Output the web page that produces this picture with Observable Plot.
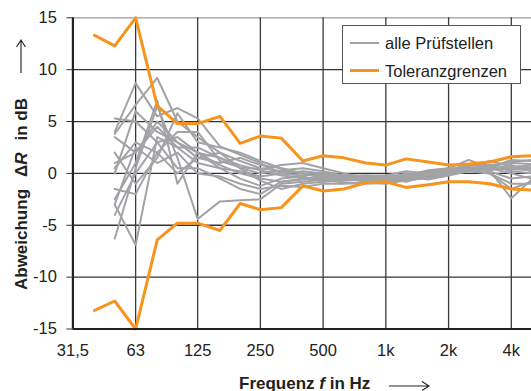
<!DOCTYPE html>
<html><head><meta charset="utf-8">
<script src="https://cdn.jsdelivr.net/npm/d3@7"></script>
<script src="https://cdn.jsdelivr.net/npm/@observablehq/plot@0.6"></script>
<style>
body{margin:0;background:#fff;font-family:"Liberation Sans",Arial,sans-serif;}
#wrap{position:relative;width:531px;height:391px;overflow:hidden;}
#legend{position:absolute;left:342px;top:25px;width:179px;height:59px;border:1px solid #555;background:#fff;box-sizing:border-box;}
.li{position:absolute;left:7px;height:20px;font-size:16.5px;color:#222;white-space:nowrap;}
.sw{position:absolute;left:0;width:29px;top:9px;}
.lt{position:absolute;left:35px;top:0;line-height:20px;}
#xl{position:absolute;left:239px;top:375px;font-size:17px;font-weight:bold;color:#222;white-space:pre;line-height:17px;}
#yl{position:absolute;left:21px;top:194px;font-size:17px;font-weight:bold;color:#222;white-space:nowrap;transform:translate(-50%,-50%) rotate(-90deg);line-height:17px;}
#yl span{display:inline-block;}
</style>
</head><body>
<div id="wrap"></div>
<script>
// third-octave centre frequencies (Hz)
const tolFreq = [40,50,63,80,100,125,160,200,250,315,400,500,630,800,1000,1250,1600,2000,2500,3150,4000,5000];
const tolUpper = [13.3,12.3,15,6.5,4.8,4.8,5.5,2.9,3.6,3.4,1.2,1.7,1.5,1.0,0.8,1.4,1.1,0.8,0.9,1.1,1.6,1.7];
const tolLower = [-13.2,-12.3,-15,-6.4,-4.8,-4.8,-5.5,-2.9,-3.5,-3.3,-1.2,-1.7,-1.5,-0.9,-0.8,-1.35,-1.1,-0.8,-0.8,-1.0,-1.5,-1.6];

const labFreq = [50,63,80,100,125,160,200,250,315,400,500,630,800,1000,1250,1600,2000,2500,3150,4000,5000];
const lab01 = [3.8,6.6,9.2,5.0,3.5,2.0,1.2,0.5,0.2,0.0,-0.3,-0.5,-0.6,-0.4,-0.3,0.0,0.2,0.5,0.8,1.0,0.9];
const lab02 = [4.0,8.7,5.5,6.3,5.3,2.6,1.8,1.0,0.0,-0.2,0.0,-0.3,-0.5,-0.7,-0.2,0.3,0.5,1.3,0.5,1.3,1.2];
const lab03 = [5.3,5.0,3.0,3.5,2.0,1.5,0.8,0.3,-0.2,-0.4,-0.5,-0.6,-0.3,-0.5,0.0,-0.3,0.1,0.6,0.3,-2.4,-0.6];
const lab04 = [-2.5,1.0,7.0,-1.0,2.0,0.8,0.0,-0.5,-0.8,-0.6,-0.5,-0.2,-0.4,-0.8,-0.6,-0.3,0.3,0.6,0.4,0.8,0.2];
const lab05 = [-6.3,0.5,6.5,1.5,-4.4,-2.7,-2.6,-2.5,-1.0,-0.8,-0.6,-0.9,-1.0,-0.9,-0.7,-0.4,0.0,0.4,0.2,-0.5,-0.3];
const lab06 = [-3.0,-6.9,3.5,2.5,1.0,0.5,-0.5,-1.2,-0.5,-0.3,-0.8,-0.7,-0.6,-0.5,-0.8,-0.2,0.2,0.8,0.6,0.4,0.5];
const lab07 = [1.0,2.0,4.5,2.5,2.5,1.5,0.5,0.0,0.3,0.5,0.2,-0.2,-0.2,-0.3,-0.4,0.1,0.4,0.7,1.2,0.7,0.6];
const lab08 = [0.5,3.0,2.0,4.0,4.0,1.2,0.6,0.4,0.8,1.0,0.5,0.0,-0.4,-0.6,-0.5,0.2,0.5,0.3,0.5,0.0,-0.5];
const lab09 = [-1.5,-2.0,2.0,0.0,1.5,2.0,0.5,-0.7,-1.5,-1.0,-0.8,-0.5,-0.8,-0.7,-0.3,-0.6,-0.2,0.2,0.0,-1.0,-1.0];
const lab10 = [3.5,2.0,5.0,3.0,1.5,1.0,1.5,0.8,0.5,0.0,-0.2,-0.4,-0.2,-0.2,0.2,0.0,0.3,0.9,0.8,0.2,0.0];
const lab11 = [-4.0,0.0,3.0,0.5,0.5,-0.5,-1.5,-2.0,-0.8,-0.5,-0.4,-0.3,-0.7,-0.4,-0.5,-0.2,0.1,0.3,0.5,0.4,0.3];
const lab12 = [2.0,-1.0,1.5,5.8,3.0,2.5,2.0,1.2,0.5,0.0,-0.5,-0.6,-0.3,-0.6,-0.2,-0.4,0.0,0.5,0.3,0.6,0.8];
const lab13 = [-3.0,2.5,1.0,2.0,0.0,-0.3,-1.0,-1.5,-1.2,-1.3,-1.0,-1.0,-0.9,-1.0,-0.6,-0.5,-0.1,0.3,0.0,-1.5,-0.8];
const lab14 = [0.0,6.0,4.0,3.0,2.0,0.5,0.2,-0.3,0.0,0.2,0.0,-0.3,-0.5,-0.3,-0.1,0.0,0.2,0.5,0.6,1.1,1.3];
const labs = [lab01,lab02,lab03,lab04,lab05,lab06,lab07,lab08,lab09,lab10,lab11,lab12,lab13,lab14];

const xTicks = [31.5,63,125,250,500,1000,2000,4000];
const xTickLabels = ["31,5","63","125","250","500","1k","2k","4k"];
const yTicks = [-15,-10,-5,0,5,10,15];
const yGrid = [-10,-5,0,5,10];
const xGrid = [63,125,250,500,1000,2000,4000];

const grayData = labs.flatMap((arr,i)=>arr.map((v,j)=>({id:i,f:labFreq[j],v})));
const tolData = [
  ...tolFreq.map((f,j)=>({side:"upper",f,v:tolUpper[j]})),
  ...tolFreq.map((f,j)=>({side:"lower",f,v:tolLower[j]}))
];
const xTickData = xTicks.map((f,i)=>({f,label:xTickLabels[i]}));

const chart = Plot.plot({
  width:531, height:391,
  marginLeft:72.4, marginRight:0, marginTop:17.3, marginBottom:62.5,
  style:{fontSize:"16.5px", fontFamily:"'Liberation Sans', Arial, sans-serif", color:"#222", background:"#fff"},
  x:{type:"log", domain:[31.5,5000], axis:null},
  y:{domain:[-15,15]},
  marks:[
    Plot.ruleY(yGrid,{stroke:"#333", strokeWidth:1.3}),
    Plot.ruleY([15],{stroke:"#999", strokeWidth:1.3}),
    Plot.ruleX(xGrid,{stroke:"#3a3a3a", strokeWidth:1.3}),
    Plot.line(grayData,{x:"f", y:"v", z:"id", stroke:"#a2a3a6", strokeWidth:2}),
    Plot.line(tolData,{x:"f", y:"v", z:"side", stroke:"#f7941d", strokeWidth:3}),
    Plot.text(xTickData,{x:"f", text:"label", frameAnchor:"bottom", lineAnchor:"top", dy:15, fill:"#222"}),
    Plot.axisY({ticks:yTicks, tickFormat:d=>String(d), tickSize:6, tickPadding:10, label:null, stroke:"#333"}),
    Plot.ruleX([31.5],{stroke:"#222", strokeWidth:2.2}),
    Plot.ruleY([-15],{stroke:"#222", strokeWidth:2.2})
  ]
});
const wrap = document.getElementById("wrap");
wrap.appendChild(chart);

const legend = document.createElement("div");
legend.id = "legend";
legend.innerHTML = `
 <div class="li" style="top:7px"><div class="sw" style="border-top:2px solid #a2a3a6"></div><span class="lt">alle Prüfstellen</span></div>
 <div class="li" style="top:35px"><div class="sw" style="border-top:3px solid #f7941d;top:8px"></div><span class="lt">Toleranzgrenzen</span></div>`;
wrap.appendChild(legend);

const xl = document.createElement("div");
xl.id = "xl";
xl.innerHTML = 'Frequenz <i>f</i> in Hz';
wrap.appendChild(xl);

const yl = document.createElement("div");
yl.id = "yl";
yl.innerHTML = '<span>Abweichung</span><span style="margin-left:12px">Δ<i>R</i></span><span style="margin-left:12px">in dB</span>';
wrap.appendChild(yl);

const ns = "http://www.w3.org/2000/svg";
function arrow(svgStyle, w, h, path){
  const s = document.createElementNS(ns,"svg");
  s.setAttribute("width",w); s.setAttribute("height",h);
  s.setAttribute("style","position:absolute;"+svgStyle);
  const p = document.createElementNS(ns,"path");
  p.setAttribute("d",path); p.setAttribute("fill","none");
  p.setAttribute("stroke","#222"); p.setAttribute("stroke-width","1.1");
  s.appendChild(p); wrap.appendChild(s);
}
arrow("left:389px;top:380px;", 42, 12, "M0,6 H40 M33,1.5 L40,6 L33,10.5");
arrow("left:15px;top:38px;", 12, 36, "M6,2 V35 M1.5,9 L6,2 L10.5,9");
</script>
</body></html>
